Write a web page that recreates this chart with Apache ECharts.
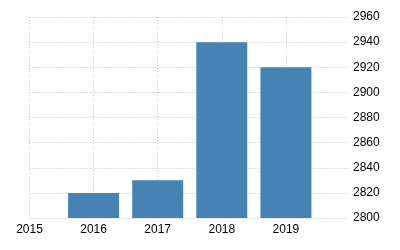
<!DOCTYPE html>
<html><head><meta charset="utf-8">
<script src="https://cdn.jsdelivr.net/npm/echarts@6/dist/echarts.min.js"></script>
<style>html,body{margin:0;padding:0;background:#fff}#c{width:400px;height:250px}</style>
</head><body><div id="c"></div>
<script>
const categories = ['2015','2016','2017','2018','2019','2020'];
const values = [null, 2820, 2830, 2940, 2920, null];
const yMin = 2800, yMax = 2960, yStep = 20;

const chart = echarts.init(document.getElementById('c'), null, {renderer:'canvas'});
chart.setOption({
  animation:false,
  grid:{left:29.5, right:50, top:17, bottom:32},
  xAxis:{
    type:'category', data:categories, boundaryGap:false,
    axisLine:{show:false}, axisTick:{show:false},
    axisLabel:{color:'#000', fontFamily:'Liberation Sans', fontSize:12, margin:6,
      interval:0, formatter:(v,i)=> i<5 ? v : ''},
    splitLine:{show:true, interval:(i)=> i<5, lineStyle:{color:'#c0c0c0', type:[1,2], width:1}}
  },
  yAxis:{
    type:'value', position:'right', min:yMin, max:yMax, interval:yStep,
    axisLine:{show:false}, axisTick:{show:false},
    axisLabel:{color:'#000', fontFamily:'Liberation Sans', fontSize:12, margin:3, formatter:(v)=>String(v)},
    splitLine:{show:true, lineStyle:{color:'#c0c0c0', type:[1,2], width:1}}
  },
  series:[{type:'bar', data:values, barWidth:51, itemStyle:{color:'#4682B4'}}]
});
</script></body></html>
